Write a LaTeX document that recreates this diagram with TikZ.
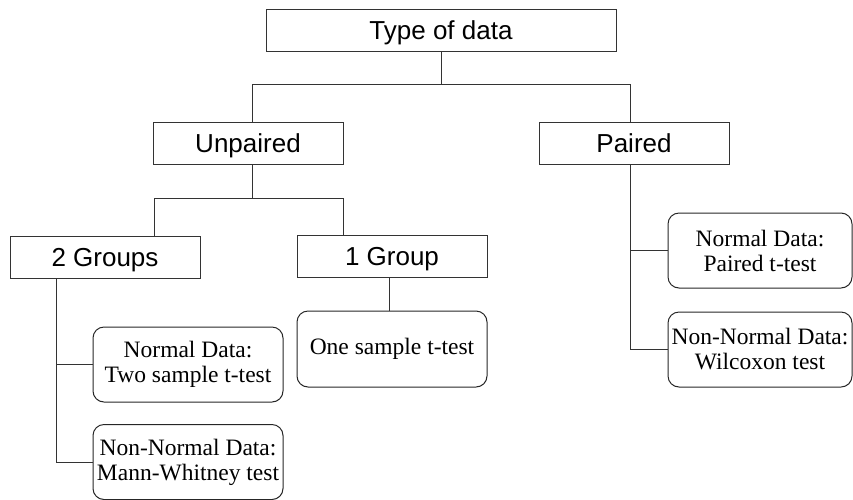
\documentclass[tikz,border=0pt]{standalone}
\usepackage{fontspec}
\setmainfont{Liberation Serif}
\setsansfont{Liberation Sans}
\usetikzlibrary{calc}
\begin{document}
\begin{tikzpicture}[x=1pt,y=-1pt,
  sqbox/.style={draw=black!80,line width=1pt,rectangle,minimum width=190pt,minimum height=42pt,inner sep=0pt,
    text height=23.5pt,text depth=5pt,
    font=\sffamily\fontsize{26}{30}\selectfont},
  rbox/.style={draw=black!85,line width=1pt,rectangle,rounded corners=11pt,minimum width=190pt,minimum height=75pt,inner sep=0pt,
    align=center,font=\rmfamily\fontsize{23.5}{25}\selectfont},
  conn/.style={draw=black!80,line width=1pt}]
\useasboundingbox (0,0) rectangle (853,499);
\node[sqbox,minimum width=350pt] (Type) at (441,30) {Type of data};
\node[sqbox] (Unp) at (248,143) {Unpaired};
\node[sqbox] (Pai) at (634,143) {Paired};
\node[sqbox] (G2) at (105,257) {2 Groups};
\node[sqbox] (G1) at (392,256) {1 Group};
\node[rbox,minimum height=76pt] (One) at (392,349) {One sample t-test};
\node[rbox] (N2) at (188,364.5) {Normal Data:\\Two sample t-test};
\node[rbox] (NN2) at (188,462) {Non-Normal Data:\\Mann-Whitney test};
\node[rbox,minimum width=184pt] (NP) at (760,250.5) {Normal Data:\\Paired t-test};
\node[rbox,minimum width=184pt] (NNP) at (760,349.5) {Non-Normal Data:\\Wilcoxon test};
\draw[conn] (Type.south) -- ++(0,33) coordinate (a);
\draw[conn] ($(Unp.north)+(4,0)$) |- (a) -| ($(Pai.north)+(-4,0)$);
\draw[conn] ($(Unp.south)+(4,0)$) -- ++(0,34) coordinate (b);
\draw[conn] ($(G2.north)+(49,0)$) |- (b) -| ($(G1.north)+(-49,0)$);
\draw[conn] ($(G2.south)+(-49,0)$) |- (N2.west);
\draw[conn] ($(G2.south)+(-49,0)$) |- (NN2.west);
\draw[conn] ($(G1.south)+(-3,0)$) -- ($(One.north)+(-3,0)$);
\draw[conn] ($(Pai.south)+(-4,0)$) |- (NP.west);
\draw[conn] ($(Pai.south)+(-4,0)$) |- (NNP.west);
\end{tikzpicture}
\end{document}
